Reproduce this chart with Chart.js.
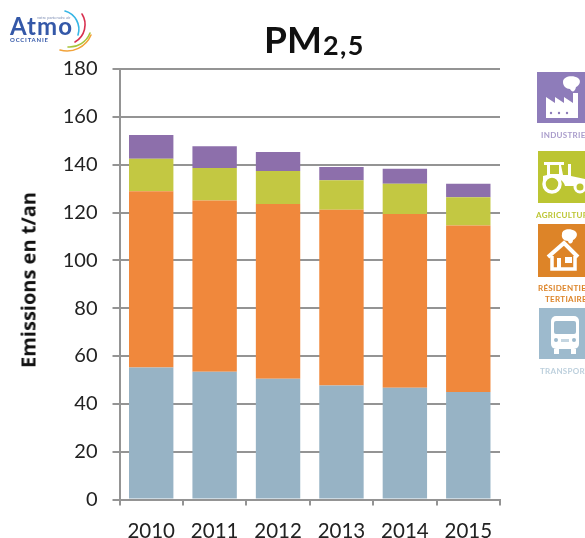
<!DOCTYPE html>
<html>
<head>
<meta charset="utf-8">
<script src="https://cdn.jsdelivr.net/npm/chart.js@4"></script>
<style>
  html, body { margin: 0; background: #fff; }
  #page { position: relative; width: 585px; height: 538px; overflow: hidden; font-family: Lato, sans-serif; }
  #chart { position: absolute; left: 0; top: 0; }
  #title { position: absolute; left: 264px; top: 15px; font-weight: 700; font-size: 37px; line-height: 48px; color: #111; white-space: nowrap; }
  #title span { font-size: 27px; letter-spacing: 1.5px; position: relative; top: 2px; margin-left: 1px; }
  #ytitle { position: absolute; left: 28px; top: 280px; transform: translate(-50%, -50%) rotate(-90deg); font-family: "Open Sans", sans-serif; font-weight: 700; font-size: 20px; color: #111; white-space: nowrap; }
  .icon { position: absolute; display: block; }
  .tag { position: absolute; font-size: 8px; font-weight: 700; line-height: 11px; white-space: nowrap; letter-spacing: 0.3px; }
</style>
</head>
<body>
<div id="page">
  <canvas id="chart" width="585" height="538"></canvas>
  <div id="title">PM<span>2,5</span></div>
  <div id="ytitle">Emissions en t/an</div>

  <!-- logo -->
  <svg class="icon" style="left:0;top:0" width="100" height="56" viewBox="0 0 100 56">
    <text x="37" y="19" font-size="4" fill="#7f8fb5" font-family="Lato">votre partenaire air</text>
    <text x="10" y="35" font-size="24" font-weight="700" fill="#3458a8" font-family="Lato" textLength="62">Atmo</text>
    <text x="10" y="41.5" font-size="6" font-weight="700" fill="#3458a8" font-family="Lato" textLength="38">OCCITANIE</text>
    <g fill="none" stroke-width="1.6" stroke-linecap="round">
      <path d="M65 11 A 19 19 0 0 1 78 35" stroke="#35b5e5"/>
      <path d="M82 14 A 20 20 0 0 1 75 42" stroke="#d8304f"/>
      <path d="M90 33 A 22 22 0 0 1 68 47" stroke="#a8c53a"/>
      <path d="M91 35 A 26 26 0 0 1 60 50" stroke="#f2a33a"/>
    </g>
  </svg>

  <!-- industrie -->
  <svg class="icon" style="left:537px;top:72px" width="52" height="51" viewBox="0 0 52 51">
    <rect width="52" height="51" fill="#8e7cba"/>
    <path d="M9 46 V25 L18 31 V25 L27 31 V25 L36 31 V21 H41 V46 Z" fill="#fff"/>
    <path d="M26 10 C26 4 36 3 41 6 C45 9 42 14 39 15 C38 20 35 21 33 17 C29 17 26 14 26 10 Z" fill="#fff"/>
    <g fill="#8e7cba"><circle cx="14" cy="41" r="1.2"/><circle cx="22" cy="41" r="1.2"/><circle cx="30" cy="41" r="1.2"/></g>
  </svg>
  <div class="tag" style="left:541px;top:130px;color:#a99ccb">INDUSTRIE</div>

  <!-- agriculture -->
  <svg class="icon" style="left:538px;top:151px" width="52" height="52" viewBox="0 0 52 52">
    <rect width="52" height="52" fill="#bcc532"/>
    <path d="M6 11 H26 V14 H23 L25 24 H30 V13 H33 V25 L47 28 V35 H27 C25 27 14 24 5 30 V25 L9 24 L9 14 H6 Z" fill="#fff"/>
    <rect x="12" y="14" width="9" height="9" fill="#bcc532"/>
    <circle cx="14" cy="33" r="8" fill="#bcc532" stroke="#fff" stroke-width="3.5"/>
    <circle cx="42" cy="36" r="5" fill="#bcc532" stroke="#fff" stroke-width="3"/>
  </svg>
  <div class="tag" style="left:536px;top:210px;color:#bcc532">AGRICULTURE</div>

  <!-- residentiel -->
  <svg class="icon" style="left:538px;top:224px" width="52" height="53" viewBox="0 0 52 53">
    <rect width="52" height="53" fill="#dd8428"/>
    <path d="M10 33 L26 19 L40 33" fill="none" stroke="#fff" stroke-width="4"/>
    <path d="M14 32 V45 H37 V32" fill="none" stroke="#fff" stroke-width="3.5"/>
    <rect x="19" y="34" width="4" height="11" fill="#fff"/>
    <rect x="27" y="33" width="7" height="6" fill="#fff"/>
    <path d="M24 10 C24 5 32 4 37 7 C41 10 38 15 35 16 C35 20 31 21 30 17 C26 17 23 14 24 10 Z" fill="#fff"/>
  </svg>
  <div class="tag" style="left:538px;top:283px;color:#dd8428">RÉSIDENTIEL</div>
  <div class="tag" style="left:545px;top:294px;color:#dd8428">TERTIAIRE</div>

  <!-- transport -->
  <svg class="icon" style="left:539px;top:308px" width="52" height="51" viewBox="0 0 52 51">
    <rect width="52" height="51" fill="#9dbacd"/>
    <rect x="12" y="8" width="28" height="33" rx="5" fill="#fff"/>
    <rect x="15" y="13" width="22" height="13" rx="2" fill="#9dbacd"/>
    <rect x="15" y="41" width="5" height="5" fill="#fff"/>
    <rect x="32" y="41" width="5" height="5" fill="#fff"/>
    <circle cx="17" cy="32" r="2" fill="#9dbacd"/>
    <circle cx="35" cy="32" r="2" fill="#9dbacd"/>
    <rect x="22" y="31" width="8" height="3" fill="#c5d6e1"/>
  </svg>
  <div class="tag" style="left:540px;top:366px;color:#bdd0dd">TRANSPORT</div>
</div>

<script>
const years = ["2010", "2011", "2012", "2013", "2014", "2015"];

const transport = [55.2, 53.4, 50.5, 47.7, 46.7, 44.9];
const residentiel = [73.7, 71.6, 73.1, 73.5, 72.7, 69.7];
const agriculture = [13.6, 13.6, 13.8, 12.3, 12.6, 11.8];
const industrie = [9.9, 9.1, 7.9, 5.5, 6.3, 5.6];

const gridColor = "#949494";

new Chart(document.getElementById("chart"), {
  type: "bar",
  data: {
    labels: years,
    datasets: [
      { label: "Transport", data: transport, backgroundColor: "#97b3c5" },
      { label: "Résidentiel tertiaire", data: residentiel, backgroundColor: "#f0883c" },
      { label: "Agriculture", data: agriculture, backgroundColor: "#c3c842" },
      { label: "Industrie", data: industrie, backgroundColor: "#8d6fab" },
    ],
  },
  options: {
    responsive: false,
    animation: false,
    barPercentage: 0.7,
    categoryPercentage: 1,
    layout: { padding: { top: 69, right: 85, left: 0, bottom: 0 } },
    plugins: { legend: { display: false }, tooltip: { enabled: false } },
    scales: {
      x: {
        stacked: true,
        afterFit: (scale) => { scale.height = 38.5; },
        grid: { drawOnChartArea: false, color: gridColor, lineWidth: 2, tickLength: 6 },
        border: { color: gridColor, width: 2 },
        ticks: { color: "#222", padding: 14, font: { family: "Lato", size: 20.5 }, maxRotation: 0 },
      },
      y: {
        stacked: true,
        min: 0,
        max: 180,
        afterFit: (scale) => { scale.width = 119.5; },
        grid: { color: gridColor, lineWidth: 2, tickLength: 7 },
        border: { color: gridColor, width: 2 },
        ticks: { stepSize: 20, color: "#222", padding: 15, font: { family: "Lato", size: 20 } },
      },
    },
  },
});
</script>
</body>
</html>
